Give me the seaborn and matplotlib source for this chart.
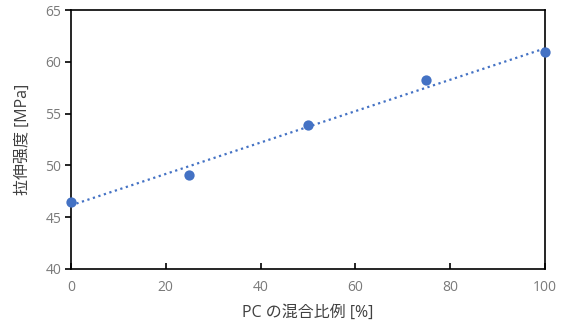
import numpy as np
import pandas as pd
import seaborn as sns
import matplotlib.pyplot as plt

pc_ratio = [0, 25, 50, 75, 100]
tensile_strength = [46.5, 49.1, 53.9, 58.2, 60.9]

x_ticks = [0, 20, 40, 60, 80, 100]
y_ticks = [40, 45, 50, 55, 60, 65]

df = pd.DataFrame({'ratio': pc_ratio, 'strength': tensile_strength})

sns.set_style('white')
plt.rcParams['font.family'] = ['Open Sans', 'Noto Sans CJK JP', 'DejaVu Sans']

fig, ax = plt.subplots(figsize=(5.63, 3.24), dpi=100)
fig.subplots_adjust(left=0.126, right=0.968, top=0.969, bottom=0.17)

blue = '#4472C4'
sns.regplot(data=df, x='ratio', y='strength', ax=ax, scatter=False, ci=None,
            truncate=True, line_kws={'color': blue, 'linestyle': (0, (1, 1.6)), 'linewidth': 1.6})
sns.scatterplot(data=df, x='ratio', y='strength', ax=ax, color=blue, s=55,
                edgecolor=blue, linewidth=0, zorder=5, clip_on=False)

ax.set_xlim(0, 100)
ax.set_ylim(40, 65)
ax.set_xticks(x_ticks)
ax.set_yticks(y_ticks)
ax.set_xlabel('PC の混合比例 [%]', fontsize=11.5, color='#404040', labelpad=7)
ax.set_ylabel('拉伸强度 [MPa]', fontsize=11.5, color='#404040', labelpad=10)

for s in ax.spines.values():
    s.set_color('black')
    s.set_linewidth(1.2)

ax.tick_params(axis='x', direction='in', length=4, width=1.2, color='black',
               labelsize=10, labelcolor='#7a7a7a', pad=8)
ax.tick_params(axis='y', direction='out', length=4, width=1.2, color='black',
               labelsize=10, labelcolor='#7a7a7a', pad=3)
ax.tick_params(left=True, bottom=True)

fig.savefig('out.png', dpi=100)
